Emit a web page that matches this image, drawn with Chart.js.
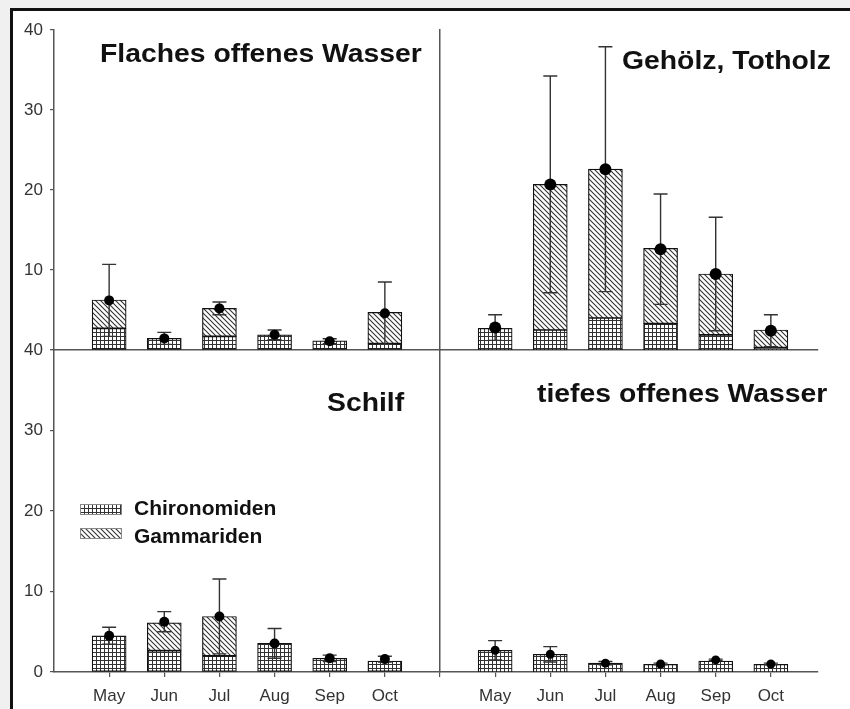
<!DOCTYPE html>
<html>
<head>
<meta charset="utf-8">
<title>Chironomiden und Gammariden</title>
<script src="https://cdn.jsdelivr.net/npm/chart.js@4.4.1/dist/chart.umd.min.js"></script>
<style>
  html, body { margin: 0; padding: 0; background: #f0f0f0; }
  #page { position: relative; width: 850px; height: 709px; overflow: hidden; }
  #frame { position: absolute; left: 10px; top: 8px; width: 860px; height: 720px; background: #fff;
           border-left: 3px solid #111; border-top: 3px solid #111; }
  canvas.panel { position: absolute; left: 0; top: 0; }
  .title { position: absolute; font: bold 26px "Liberation Sans", Arial, sans-serif; line-height: 26px;
           color: #111; white-space: nowrap; transform: scaleX(1.09); transform-origin: left center; }
  .legend { position: absolute; left: 80px; font: bold 21px "Liberation Sans", Arial, sans-serif;
            line-height: 21px; color: #111; white-space: nowrap; }
  .legend canvas { position: absolute; left: 0; }
  .legend span { position: absolute; left: 54px; }
</style>
</head>
<body>
<div id="page">
  <div id="frame"></div>
  <canvas class="panel" id="flach" width="850" height="709"></canvas>
  <canvas class="panel" id="gehoelz" width="850" height="709"></canvas>
  <canvas class="panel" id="schilf" width="850" height="709"></canvas>
  <canvas class="panel" id="tief" width="850" height="709"></canvas>

  <div class="title" style="left:100px; top:40px;">Flaches offenes Wasser</div>
  <div class="title" style="left:622px; top:47px;">Gehölz, Totholz</div>
  <div class="title" style="left:327px; top:389px;">Schilf</div>
  <div class="title" style="left:537px; top:380px;">tiefes offenes Wasser</div>

  <div class="legend" style="top:497px;"><canvas id="swChiro" width="42" height="11" style="top:7px"></canvas><span>Chironomiden</span></div>
  <div class="legend" style="top:525px;"><canvas id="swGamm" width="42" height="11" style="top:3px"></canvas><span>Gammariden</span></div>
</div>

<script>
// months on the x axis
const months = ["May", "Jun", "Jul", "Aug", "Sep", "Oct"];
const yTicks = [0, 10, 20, 30, 40];

// Flaches offenes Wasser
const flachChiro = [2.7, 1.45, 1.7, 1.9, 1.15, 0.8];
const flachGamm  = [3.55, 0, 3.5, 0, 0, 3.9];
const flachMean  = [6.2, 1.45, 5.2, 1.9, 1.1, 4.6];
const flachSd    = [4.5, 0.75, 0.8, 0.6, 0.3, 3.9];

// Gehölz, Totholz
const gehoelzChiro = [2.7, 2.5, 4.0, 3.3, 1.9, 0.3];
const gehoelzGamm  = [0, 18.2, 18.6, 9.4, 7.6, 2.2];
const gehoelzMean  = [2.8, 20.7, 22.6, 12.6, 9.5, 2.4];
const gehoelzSd    = [1.6, 13.55, 15.3, 6.9, 7.1, 2.0];

// Schilf
const schilfChiro = [4.5, 2.65, 2.0, 3.55, 1.7, 1.35];
const schilfGamm  = [0, 3.45, 4.9, 0, 0, 0];
const schilfMean  = [4.5, 6.25, 6.9, 3.55, 1.7, 1.6];
const schilfSd    = [1.05, 1.25, 4.65, 1.85, 0.4, 0.35];

// tiefes offenes Wasser
const tiefChiro = [2.7, 2.2, 1.1, 0.95, 1.35, 0.95];
const tiefGamm  = [0, 0, 0, 0, 0, 0];
const tiefMean  = [2.7, 2.2, 1.1, 1.0, 1.5, 1.0];
const tiefSd    = [1.2, 0.95, 0.2, 0.1, 0.1, 0.1];

const axisColor = "#555";
const font = "'Liberation Sans', Arial, sans-serif";

function makeGrid() {
    const c = document.createElement("canvas");
    c.width = 4; c.height = 4;
    const g = c.getContext("2d");
    g.fillStyle = "#fff"; g.fillRect(0, 0, 4, 4);
    g.fillStyle = "#333";
    g.fillRect(0, 0, 4, 1);
    g.fillRect(0, 0, 1, 4);
    return g.createPattern(c, "repeat");
}

function makeHatch() {
    const s = 5;
    const c = document.createElement("canvas");
    c.width = s; c.height = s;
    const g = c.getContext("2d");
    g.fillStyle = "#fff"; g.fillRect(0, 0, s, s);
    g.strokeStyle = "#333"; g.lineWidth = 1.1;
    g.beginPath();
    g.moveTo(0, 0); g.lineTo(s, s);
    g.moveTo(-1, s - 1); g.lineTo(1, s + 1);
    g.moveTo(s - 1, -1); g.lineTo(s + 1, 1);
    g.stroke();
    return g.createPattern(c, "repeat");
}

const gridFill = makeGrid();
const hatchFill = makeHatch();

function swatch(id, fill) {
    const g = document.getElementById(id).getContext("2d");
    g.fillStyle = fill;
    g.fillRect(0, 0, 42, 11);
    g.strokeStyle = "#888";
    g.lineWidth = 1;
    g.strokeRect(0.5, 0.5, 41, 10);
}
swatch("swChiro", gridFill);
swatch("swGamm", hatchFill);

function toXY(values) {
    return values.map((v, i) => ({ x: i + 1, y: v > 0 ? v : null }));
}

function errorBars(mean, sd) {
    return {
        id: "errorBars",
        beforeDatasetDraw(chart, args) {
            if (args.index !== 2) return;
            const ctx = chart.ctx;
            const x = chart.scales.x;
            const y = chart.scales.y;
            ctx.save();
            ctx.strokeStyle = "#333";
            ctx.lineWidth = 1.4;
            mean.forEach((m, i) => {
                const px = x.getPixelForValue(i + 1);
                const top = y.getPixelForValue(m + sd[i]);
                const bot = y.getPixelForValue(Math.max(0, m - sd[i]));
                ctx.beginPath();
                ctx.moveTo(px, top); ctx.lineTo(px, bot);
                ctx.moveTo(px - 7, top); ctx.lineTo(px + 7, top);
                ctx.moveTo(px - 7, bot); ctx.lineTo(px + 7, bot);
                ctx.stroke();
            });
            ctx.restore();
        }
    };
}

function panel(id, p) {
    return new Chart(document.getElementById(id), {
        type: "bar",
        data: {
            datasets: [
                {
                    label: "Chironomiden",
                    data: toXY(p.chiro),
                    backgroundColor: gridFill,
                    borderColor: "#111",
                    borderWidth: 1.2,
                    borderSkipped: false,
                    barThickness: 34,
                    stack: "sum",
                    order: 1
                },
                {
                    label: "Gammariden",
                    data: toXY(p.gamm),
                    backgroundColor: hatchFill,
                    borderColor: "#111",
                    borderWidth: 1.2,
                    borderSkipped: false,
                    barThickness: 34,
                    stack: "sum",
                    order: 1
                },
                {
                    type: "line",
                    label: "Mittelwert",
                    data: toXY(p.mean),
                    showLine: false,
                    pointRadius: p.dot,
                    pointBackgroundColor: "#000",
                    pointBorderWidth: 0,
                    stack: "mean",
                    order: 0
                }
            ]
        },
        options: {
            responsive: false,
            animation: false,
            devicePixelRatio: 1,
            layout: { padding: p.pad },
            plugins: {
                legend: { display: false },
                tooltip: { enabled: false }
            },
            scales: {
                x: {
                    type: "linear",
                    min: 0,
                    max: p.xMax,
                    offset: false,
                    stacked: true,
                    afterBuildTicks: s => { s.ticks = p.xTicks.map(v => ({ value: v })); },
                    afterFit: s => { s.height = p.xHeight; },
                    grid: { display: p.xLabels, offset: false, drawOnChartArea: false, tickLength: 5, color: axisColor, lineWidth: 1.2 },
                    border: { display: true, color: axisColor, width: 1.5 },
                    ticks: {
                        display: p.xLabels,
                        autoSkip: false,
                        maxRotation: 0,
                        padding: 9,
                        color: "#333",
                        font: { family: font, size: 17 },
                        callback: v => months[v - 1] || ""
                    }
                },
                y: {
                    type: "linear",
                    min: 0,
                    max: 40,
                    stacked: true,
                    afterBuildTicks: s => { s.ticks = yTicks.map(v => ({ value: v })); },
                    afterFit: s => { s.width = p.yWidth; },
                    grid: { display: p.yLabels, drawOnChartArea: false, tickLength: 4, color: axisColor, lineWidth: 1.2 },
                    border: { display: true, color: axisColor, width: 1.5 },
                    ticks: {
                        display: p.yLabels,
                        padding: 7,
                        color: "#333",
                        font: { family: font, size: 17 },
                        callback: p.yLabel
                    }
                }
            }
        },
        plugins: [errorBars(p.mean, p.sd)]
    });
}

const leftMax = 7;
const rightMax = 6.855;

panel("flach", {
    chiro: flachChiro, gamm: flachGamm, mean: flachMean, sd: flachSd, dot: 5,
    pad: { left: 0, right: 410, top: 30, bottom: 359 },
    xMax: leftMax, xTicks: [1, 2, 3, 4, 5, 6], xHeight: 0, xLabels: false,
    yWidth: 54, yLabels: true, yLabel: v => (v === 0 ? "" : v)
});

panel("gehoelz", {
    chiro: gehoelzChiro, gamm: gehoelzGamm, mean: gehoelzMean, sd: gehoelzSd, dot: 6,
    pad: { left: 440, right: 32, top: 30, bottom: 359 },
    xMax: rightMax, xTicks: [1, 2, 3, 4, 5, 6], xHeight: 0, xLabels: false,
    yWidth: 0, yLabels: false, yLabel: v => v
});

panel("schilf", {
    chiro: schilfChiro, gamm: schilfGamm, mean: schilfMean, sd: schilfSd, dot: 5,
    pad: { left: 0, right: 410, top: 350, bottom: 0 },
    xMax: leftMax, xTicks: [1, 2, 3, 4, 5, 6], xHeight: 37, xLabels: true,
    yWidth: 54, yLabels: true, yLabel: v => v
});

panel("tief", {
    chiro: tiefChiro, gamm: tiefGamm, mean: tiefMean, sd: tiefSd, dot: 4.5,
    pad: { left: 440, right: 32, top: 350, bottom: 0 },
    xMax: rightMax, xTicks: [0, 1, 2, 3, 4, 5, 6], xHeight: 37, xLabels: true,
    yWidth: 0, yLabels: false, yLabel: v => v
});
</script>
</body>
</html>
